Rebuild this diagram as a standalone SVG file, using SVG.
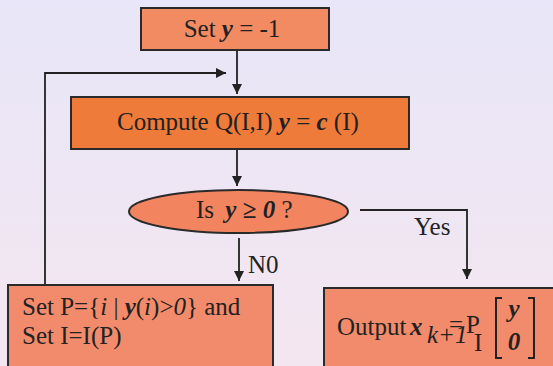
<svg xmlns="http://www.w3.org/2000/svg" width="553" height="366" viewBox="0 0 553 366">
<defs>
<linearGradient id="bg" x1="0" y1="0" x2="0" y2="1">
<stop offset="0" stop-color="#e8e6f8"/>
<stop offset="1" stop-color="#f4e6f0"/>
</linearGradient>
<marker id="ah" viewBox="0 0 10 10" refX="10" refY="5" markerWidth="10" markerHeight="10" markerUnits="userSpaceOnUse" orient="auto">
<path d="M0,0 L10,5 L0,10 z" fill="#222"/>
</marker>
<style>
.box{stroke:#2a2a2a;stroke-width:2}
.t{font-family:"Liberation Serif","Times New Roman",serif;font-size:25px;fill:#222}
.bi{font-weight:bold;font-style:italic}
.i{font-style:italic}
.ln{fill:none;stroke:#222;stroke-width:1.8}
</style>
</defs>
<rect width="553" height="366" fill="url(#bg)"/>
<g id="connectors">
<line class="ln" x1="237" y1="50" x2="237" y2="94" marker-end="url(#ah)"/>
<polyline class="ln" points="45,285 45,73 226,73" marker-end="url(#ah)"/>
<line class="ln" x1="237" y1="150" x2="237" y2="186" marker-end="url(#ah)"/>
<line class="ln" x1="239" y1="238" x2="239" y2="281" marker-end="url(#ah)"/>
<polyline class="ln" points="360,210 467,210 467,279" marker-end="url(#ah)"/>
<text class="t" x="248" y="273">N0</text>
<text class="t" x="414" y="235">Yes</text>
</g>
<g id="start">
<rect class="box" x="141" y="8" width="188" height="42" fill="#f28b62"/>
<text class="t" x="232" y="37" text-anchor="middle">Set <tspan class="bi">y</tspan> = -1</text>
</g>
<g id="compute">
<rect class="box" x="71" y="97" width="338" height="52" fill="#ef7b3a"/>
<text class="t" x="117" y="130">Compute Q(I,I) <tspan class="bi">y</tspan> = <tspan class="bi">c</tspan> (I)</text>
</g>
<g id="decision">
<ellipse class="box" cx="238.5" cy="211.5" rx="109.5" ry="21.5" fill="#f28460"/>
<text class="t" x="196" y="218">Is <tspan class="bi" dx="5">y</tspan> <tspan font-weight="bold">≥</tspan> <tspan class="bi">0</tspan> ?</text>
</g>
<g id="setP">
<rect class="box" x="8" y="285" width="265" height="90" fill="#f28b6c"/>
<text class="t" x="22" y="315">Set P={<tspan class="i">i</tspan> | <tspan class="bi">y</tspan>(<tspan class="i">i</tspan>)&gt;<tspan class="i">0</tspan>} and</text>
<text class="t" x="22" y="344">Set I=I(P)</text>
</g>
<g id="output">
<rect class="box" x="324" y="288" width="240" height="90" fill="#f28b6c"/>
<text class="t" x="337" y="335" font-size="23">Output</text>
<text class="t bi" x="410" y="335">x</text>
<text class="t i" x="427" y="343" font-size="14">k+1</text>
<text class="t" x="449" y="333" font-size="20">=</text>
<text class="t" x="466" y="333" font-size="22">P</text>
<text class="t" x="474" y="351" font-size="20">I</text>
<path d="M502,298 L496,298 L496,358 L502,358" fill="none" stroke="#222" stroke-width="2"/>
<path d="M528,298 L534,298 L534,358 L528,358" fill="none" stroke="#222" stroke-width="2"/>
<text class="t bi" x="514" y="317" text-anchor="middle">y</text>
<text class="t bi" x="514" y="350" text-anchor="middle">0</text>
</g>
</svg>
